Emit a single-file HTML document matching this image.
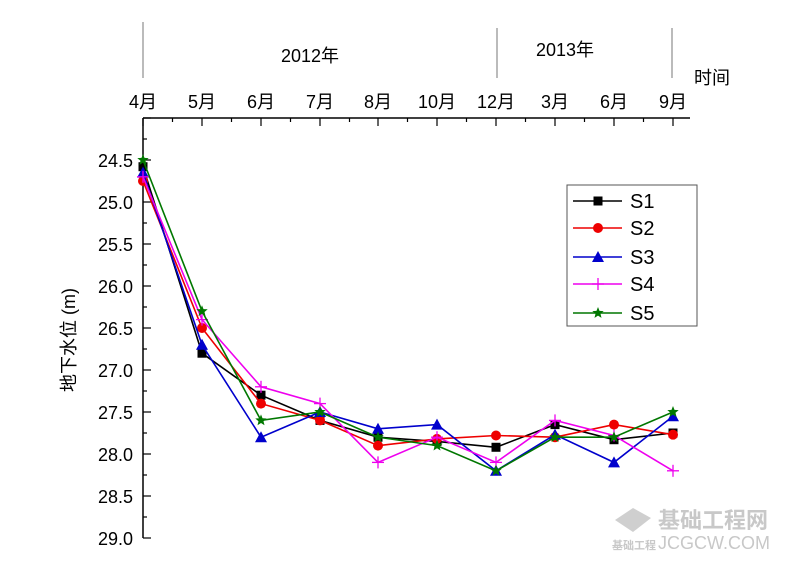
<!DOCTYPE html>
<html><head><meta charset="utf-8"><style>
body{margin:0;background:#fff;}
svg text{font-family:"Liberation Sans","Noto Sans CJK SC",sans-serif;}
</style></head><body>
<svg width="800" height="565" viewBox="0 0 800 565" xmlns="http://www.w3.org/2000/svg">
<g stroke="#000" stroke-width="1" fill="none">
<line x1="143" y1="22" x2="143" y2="78" stroke="#777"/>
<line x1="497" y1="28" x2="497" y2="78" stroke="#777"/>
<line x1="672" y1="28" x2="672" y2="78" stroke="#777"/>
<line x1="143" y1="118" x2="143" y2="538" stroke-width="1.5"/>
<line x1="143" y1="118" x2="690" y2="118" stroke-width="1.5"/>
</g>
<g font-size="18" fill="#000">
<text x="310" y="62" text-anchor="middle">2012年</text>
<text x="565" y="56" text-anchor="middle">2013年</text>
<text x="712" y="84" text-anchor="middle">时间</text>
</g>
<g id="ticks" stroke="#000" stroke-width="1.2"></g>
<g id="labels" font-size="18" fill="#000"></g>
<text transform="translate(75,340) rotate(-90)" font-size="18" text-anchor="middle">地下水位 (m)</text>
<g id="series"></g>
<rect x="567" y="185" width="130" height="141" fill="#fff" stroke="#555" stroke-width="1"/>
<g id="legend" font-size="20"></g>
<g fill="#c8c8c8" font-size="22" font-weight="bold">
<path d="M615 520 l18 -12 l18 10 l-18 14 z" fill="#cfcfcf"/>
<text x="658" y="528">基础工程网</text>
<text x="658" y="549" font-size="18" font-weight="normal">JCGCW.COM</text>
<text x="612" y="549" font-size="11">基础工程</text>
</g>
<script>
var ns="http://www.w3.org/2000/svg";
function el(t,a,p,txt){var e=document.createElementNS(ns,t);for(var k in a)e.setAttribute(k,a[k]);if(txt)e.textContent=txt;document.getElementById(p).appendChild(e);return e;}
var xs=[143,202,261,320,378,437,496,555,614,673];
var months=["4月","5月","6月","7月","8月","10月","12月","3月","6月","9月"];
function Y(v){return 118+(v-24)*84;}
xs.forEach(function(x,i){el("line",{x1:x,y1:118,x2:x,y2:126},"ticks");el("text",{x:x,y:108,"text-anchor":"middle"},"labels",months[i]);
if(i<9)el("line",{x1:x+29.5,y1:118,x2:x+29.5,y2:122},"ticks");});
for(var v=24;v<=29.001;v+=0.25){var y=Y(v);var major=Math.abs(v*2-Math.round(v*2))<0.01;
el("line",{x1:143,y1:y,x2:143+(major?8:4),y2:y},"ticks");
if(major&&v>24.01)el("text",{x:133,y:y+7,"text-anchor":"end"},"labels",v.toFixed(1));}
var S=[
["#000","sq",[24.58,26.8,27.3,27.6,27.8,27.85,27.92,27.65,27.83,27.75]],
["#e00","ci",[24.75,26.5,27.4,27.6,27.9,27.82,27.78,27.8,27.65,27.77]],
["#00c","tr",[24.65,26.7,27.8,27.5,27.7,27.65,28.2,27.77,28.1,27.55]],
["#e0e","pl",[24.7,26.4,27.2,27.4,28.1,27.8,28.1,27.6,27.78,28.2]],
["#070","st",[24.5,26.3,27.6,27.5,27.8,27.9,28.2,27.8,27.8,27.5]]];
function mk(c,t,x,y,p){
if(t=="sq")el("rect",{x:x-4.5,y:y-4.5,width:9,height:9,fill:c},p);
else if(t=="ci")el("circle",{cx:x,cy:y,r:5,fill:c},p);
else if(t=="tr")el("polygon",{points:(x)+","+(y-6)+" "+(x-6)+","+(y+5)+" "+(x+6)+","+(y+5),fill:c},p);
else if(t=="pl"){el("line",{x1:x-6,y1:y,x2:x+6,y2:y,stroke:c,"stroke-width":1.3},p);el("line",{x1:x,y1:y-6,x2:x,y2:y+6,stroke:c,"stroke-width":1.3},p);}
else{var pts=[];for(var i=0;i<10;i++){var r=i%2?2.6:6,a=-Math.PI/2+i*Math.PI/5;pts.push((x+r*Math.cos(a)).toFixed(1)+","+(y+r*Math.sin(a)).toFixed(1));}el("polygon",{points:pts.join(" "),fill:c},p);}}
S.forEach(function(s,k){var pts=s[2].map(function(v,i){return xs[i]+","+Y(v).toFixed(1);}).join(" ");
el("polyline",{points:pts,fill:"none",stroke:s[0],"stroke-width":1.6},"series");
s[2].forEach(function(v,i){mk(s[0],s[1],xs[i],Y(v),"series");});
var ly=[201,228,257,284,313][k];
el("line",{x1:573,y1:ly,x2:622,y2:ly,stroke:s[0],"stroke-width":1.6},"legend");
mk(s[0],s[1],598,ly,"legend");
el("text",{x:630,y:ly+7,fill:"#000"},"legend","S"+(k+1));});
</script>
</svg>
</body></html>
